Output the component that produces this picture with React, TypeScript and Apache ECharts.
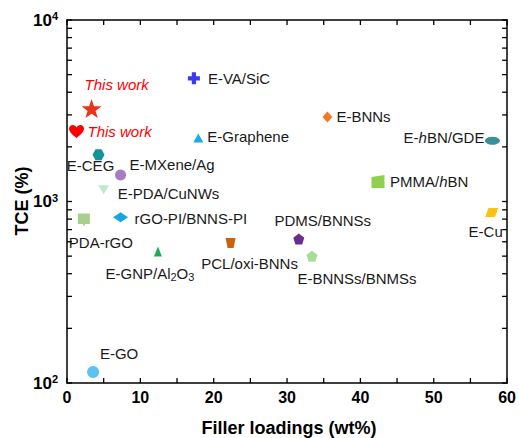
import React, { useEffect, useRef } from "react";
import * as echarts from "echarts";

// ---- data ----
const names = [
  "This work", "This work", "E-VA/SiC", "E-Graphene", "E-BNNs", "E-hBN/GDE",
  "PMMA/hBN", "E-Cu", "E-CEG", "E-MXene/Ag", "E-PDA/CuNWs", "rGO-PI/BNNS-PI",
  "PDA-rGO", "E-GNP/Al2O3", "PCL/oxi-BNNs", "PDMS/BNNSs", "E-BNNSs/BNMSs", "E-GO",
];
const fillerLoadings = [3.35, 1.3, 17.3, 17.9, 35.5, 58.0, 42.4, 57.9, 4.3, 7.3, 5.0, 7.3, 2.3, 12.4, 22.3, 31.6, 33.4, 3.56];
const tceValues = [3250, 2430, 4770, 2240, 2925, 2160, 1290, 870, 1810, 1400, 1160, 820, 790, 530, 590, 622, 500, 115];
const xTicks = [0, 10, 20, 30, 40, 50, 60];
const xAllTicks = [0, 5, 10, 15, 20, 25, 30, 35, 40, 45, 50, 55, 60];
const yMajorTicks = [100, 1000, 10000];
const yAllTicks = [100, 200, 300, 400, 500, 600, 700, 800, 900, 1000, 2000, 3000, 4000, 5000, 6000, 7000, 8000, 9000, 10000];
const xTitle = "Filler loadings (wt%)";
const yTitle = "TCE (%)";

// ---- styles ----
const P = {
  star: "path://M10,0L12.35,6.76L19.51,6.91L13.8,11.24L15.88,18.09L10,14L4.12,18.09L6.2,11.24L0.49,6.91L7.65,6.76Z",
  heart: "path://M10,18C2,12 0,8 0,5C0,2 2.5,0 5,0C7,0 9,1.5 10,3.5C11,1.5 13,0 15,0C17.5,0 20,2 20,5C20,8 18,12 10,18Z",
  plus: "path://M6.5,0H13.5V6.5H20V13.5H13.5V20H6.5V13.5H0V6.5H6.5Z",
  hex: "path://M5,1.34L15,1.34L20,10L15,18.66L5,18.66L0,10Z",
  pent: "path://M10,0L19.51,6.91L15.88,18.09L4.12,18.09L0.49,6.91Z",
  trap: "path://M0,0H20L16,20H4Z",
  para: "path://M5,0H20L15,20H0Z",
  pdargo: "path://M0,0H20V16H12L10,20L8,16H0Z",
  pmma: "path://M0,3L20,0V20H0Z",
};
const symbols = [P.star, P.heart, P.plus, "triangle", "diamond", "circle", P.pmma, P.para, P.hex, "circle", "triangle", "diamond", P.pdargo, "triangle", P.trap, P.pent, P.pent, "circle"];
const rotates = [0, 0, 0, 0, 0, 0, 0, 0, 0, 0, 180, 0, 0, 0, 0, 0, 0, 0];
const sizes: number[][] = [[20, 19], [15, 13], [12, 12], [10, 9], [10, 11], [15, 8], [13, 13], [13, 9], [12, 11], [11, 11], [11, 9], [15, 10], [12, 13], [8, 10], [10, 10], [11, 11], [11, 11], [12, 12]];
const colors = ["#e8341c", "#ff0000", "#3a3af5", "#20a8e8", "#f07a28", "#3a9098", "#8fd14f", "#ffc20e", "#139499", "#a77dc2", "#c5e5cc", "#1ba3e3", "#a9cf8c", "#15b050", "#cc6210", "#6b2d8d", "#a9dc94", "#5bc3ee"];
const aligns = ["left", "left", "left", "left", "left", "right", "left", "center", "center", "left", "left", "left", "center", "center", "center", "center", "center", "center"];
const offsets: number[][] = [[-7, -24], [11, 0], [14, 0], [9, -1], [9, 0], [-8, -3], [12, 0], [-6, 19], [-8, 11], [9, -10], [14, 4], [14, 1], [17, 22], [-8, 22], [19, 20], [24, -18], [45, 22], [26, -18]];
const richTexts: Record<number, string> = {
  5: "E-{i|h}BN/GDE",
  6: "PMMA/{i|h}BN",
  13: "E-GNP/Al{sub|2}O{sub|3}",
};

const FONT = "'Liberation Sans', Arial, sans-serif";
const TICK_LEN = 5;
const TICK_W = 1.3;

const line = () => ({ show: true, onZero: false, lineStyle: { color: "#000", width: 1.5 } });

// tick marks drawn as thin rect symbols at tick values, through the axes' own scales
const tickSeries = (points: number[][], size: number[], offset: number[]) => ({
  type: "scatter",
  xAxisIndex: 0,
  yAxisIndex: 0,
  silent: true,
  clip: false,
  z: 4,
  symbol: "rect",
  symbolSize: size,
  symbolOffset: offset,
  itemStyle: { color: "#000", opacity: 1 },
  label: { show: false },
  emphasis: { disabled: true },
  data: points,
});

export default function App() {
  const ref = useRef<HTMLDivElement>(null);
  useEffect(() => {
    if (!ref.current) return;
    const chart = echarts.init(ref.current, undefined, { renderer: "svg" });
    const data = names.map((n, i) => {
      const isWork = i < 2;
      return {
        value: [fillerLoadings[i], tceValues[i]],
        name: n,
        symbol: symbols[i],
        symbolSize: sizes[i],
        symbolRotate: rotates[i],
        itemStyle: { color: colors[i], opacity: 1 },
        label: {
          show: true,
          position: "inside",
          align: aligns[i],
          verticalAlign: "middle",
          offset: offsets[i],
          formatter: richTexts[i] ?? n,
          color: isWork ? "#ff0000" : "#1a1a1a",
          fontStyle: isWork ? "italic" : "normal",
          fontSize: 15,
          fontFamily: FONT,
          rich: {
            i: { fontStyle: "italic", fontSize: 15, fontFamily: FONT, color: "#1a1a1a" },
            sub: { fontSize: 11, fontFamily: FONT, color: "#1a1a1a", verticalAlign: "bottom", padding: [7, 0, 0, 0] },
          },
        },
      };
    });
    const yMin = yAllTicks[0];
    const yMax = yAllTicks[yAllTicks.length - 1];
    const xMin = xAllTicks[0];
    const xMax = xAllTicks[xAllTicks.length - 1];
    chart.setOption({
      animation: false,
      grid: { left: 67, right: 9, top: 20, bottom: 55 },
      xAxis: [
        {
          type: "value", min: 0, max: 60, interval: 5,
          axisLine: line(), axisTick: { show: false }, splitLine: { show: false },
          axisLabel: {
            formatter: (v: number) => (xTicks.includes(v) ? String(v) : ""),
            fontSize: 16, fontWeight: "bold", color: "#000", fontFamily: FONT, margin: 6,
          },
        },
        {
          type: "value", min: 0, max: 60, interval: 5, position: "top",
          axisLine: line(), axisTick: { show: false }, axisLabel: { show: false }, splitLine: { show: false },
        },
      ],
      yAxis: [
        {
          type: "log", logBase: 10, min: 100, max: 10000,
          axisLine: line(), axisTick: { show: false }, splitLine: { show: false },
          axisLabel: {
            customValues: yMajorTicks,
            formatter: (v: number) => `{b|10}{sup|${Math.round(Math.log10(v))}}`,
            margin: 9,
            rich: {
              b: { fontSize: 17, fontWeight: "bold", color: "#000", fontFamily: FONT },
              sup: { fontSize: 11, fontWeight: "bold", color: "#000", fontFamily: FONT, verticalAlign: "top", padding: [0, 0, 8, 0] },
            },
          },
        },
        {
          type: "log", logBase: 10, min: 100, max: 10000, position: "right",
          axisLine: line(), axisTick: { show: false }, axisLabel: { show: false }, splitLine: { show: false },
        },
      ],
      graphic: [
        {
          type: "text", x: 289, y: 428,
          style: { text: xTitle, font: `bold 18px ${FONT}`, fill: "#000", align: "center", verticalAlign: "middle" },
        },
        {
          type: "text", x: 22, y: 201, rotation: Math.PI / 2,
          style: { text: yTitle, font: `bold 18px ${FONT}`, fill: "#000", align: "center", verticalAlign: "middle" },
        },
      ],
      series: [
        { type: "scatter", xAxisIndex: 0, yAxisIndex: 0, data, z: 3 },
        tickSeries(xAllTicks.map((v) => [v, yMin]), [TICK_W, TICK_LEN], [0, -TICK_LEN / 2]),
        tickSeries(xAllTicks.map((v) => [v, yMax]), [TICK_W, TICK_LEN], [0, TICK_LEN / 2]),
        tickSeries(yAllTicks.map((v) => [xMin, v]), [TICK_LEN, TICK_W], [TICK_LEN / 2, 0]),
        tickSeries(yAllTicks.map((v) => [xMax, v]), [TICK_LEN, TICK_W], [-TICK_LEN / 2, 0]),
      ],
    });
    return () => chart.dispose();
  }, []);
  return <div ref={ref} style={{ width: 519, height: 438, position: "absolute", left: 0, top: 0 }} />;
}
